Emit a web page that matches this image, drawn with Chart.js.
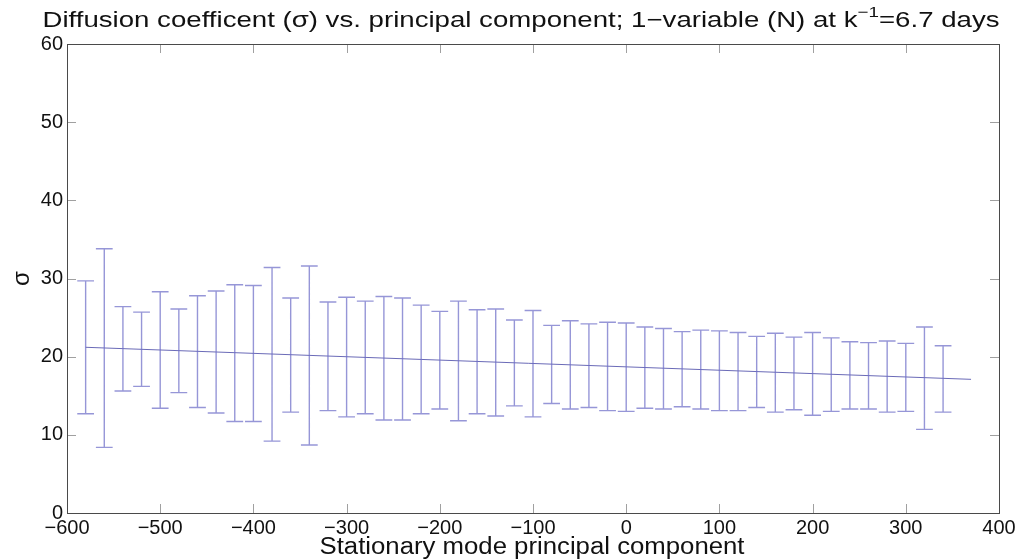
<!DOCTYPE html>
<html>
<head>
<meta charset="utf-8">
<script src="https://cdn.jsdelivr.net/npm/chart.js@4/dist/chart.umd.min.js"></script>
<style>
  html, body { margin: 0; padding: 0; background: #ffffff; }
  #wrap { width: 1022px; height: 560px; }
</style>
</head>
<body>
<div id="wrap"><canvas id="c" width="1022" height="560"></canvas></div>
<script>
// Principal-component bins and the sigma interval in each bin
const binX = [-580, -560, -540, -520, -500, -480, -460, -440, -420, -400,
              -380, -360, -340, -320, -300, -280, -260, -240, -220, -200,
              -180, -160, -140, -120, -100, -80, -60, -40, -20, 0,
              20, 40, 60, 80, 100, 120, 140, 160, 180, 200,
              220, 240, 260, 280, 300, 320, 340];
const sigmaLow = [12.7, 8.4, 15.6, 16.2, 13.4, 15.4, 13.5, 12.8, 11.7, 11.7,
                  9.2, 12.9, 8.7, 13.1, 12.3, 12.7, 11.9, 11.9, 12.7, 13.3,
                  11.8, 12.7, 12.4, 13.7, 12.3, 14.0, 13.3, 13.5, 13.1, 13.0,
                  13.4, 13.3, 13.6, 13.3, 13.1, 13.1, 13.5, 12.9, 13.2, 12.5,
                  13.0, 13.3, 13.3, 12.9, 13.0, 10.7, 12.9];
const sigmaHigh = [29.7, 33.8, 26.4, 25.7, 28.3, 26.1, 27.8, 28.4, 29.2, 29.1,
                   31.4, 27.5, 31.6, 27.0, 27.6, 27.1, 27.7, 27.5, 26.6, 25.8,
                   27.1, 26.0, 26.1, 24.7, 25.9, 24.0, 24.6, 24.2, 24.4, 24.3,
                   23.8, 23.6, 23.2, 23.4, 23.3, 23.1, 22.6, 23.0, 22.5, 23.1,
                   22.4, 21.9, 21.8, 22.0, 21.7, 23.8, 21.4];

// Linear fit through the bins
const fitX = [-580, 370];
const fitY = [21.2, 17.1];

// Axis ticks
const xTicks = [-600, -500, -400, -300, -200, -100, 0, 100, 200, 300, 400];
const yTicks = [0, 10, 20, 30, 40, 50, 60];

// Labels
const titleMain = 'Diffusion coefficent (\u03c3) vs. principal component; 1\u2212variable (N) at k';
const titleSup = '\u22121';
const titleEnd = '=6.7 days';
const xTitle = 'Stationary mode principal component';
const yTitle = '\u03c3';

const CAP_HALF = 9;          // half cap width, in x units
const FONT = "'Liberation Sans', Arial, sans-serif";
const MINUS = '\u2212';

// Error bars as one broken polyline: stem and both caps per bin
const barPoints = [];
binX.forEach((x, i) => {
  const lo = sigmaLow[i], hi = sigmaHigh[i];
  barPoints.push({x: x, y: lo}, {x: x, y: hi}, {x: x, y: null});
  barPoints.push({x: x - CAP_HALF, y: lo}, {x: x + CAP_HALF, y: lo}, {x: x, y: null});
  barPoints.push({x: x - CAP_HALF, y: hi}, {x: x + CAP_HALF, y: hi}, {x: x, y: null});
});
const fitPoints = fitX.map((x, i) => ({x: x, y: fitY[i]}));

// Box around the axes with inward tick marks on all four sides
const boxPlugin = {
  id: 'box',
  afterDatasetsDraw(chart) {
    const {ctx, chartArea: a, scales} = chart;
    const len = 9;
    ctx.save();
    ctx.lineWidth = 1;
    ctx.strokeStyle = '#a0a0a0';
    ctx.beginPath();
    xTicks.forEach(v => {
      const px = Math.round(scales.x.getPixelForValue(v)) + 0.5;
      ctx.moveTo(px, a.bottom); ctx.lineTo(px, a.bottom - len);
      ctx.moveTo(px, a.top); ctx.lineTo(px, a.top + len);
    });
    yTicks.forEach(v => {
      const py = Math.round(scales.y.getPixelForValue(v)) + 0.5;
      ctx.moveTo(a.left, py); ctx.lineTo(a.left + len, py);
      ctx.moveTo(a.right, py); ctx.lineTo(a.right - len, py);
    });
    ctx.stroke();
    ctx.strokeStyle = '#4a4a4a';
    ctx.strokeRect(Math.round(a.left) + 0.5, Math.round(a.top) + 0.5,
                   Math.round(a.right - a.left), Math.round(a.bottom - a.top));
    ctx.restore();
  }
};

// Draw a run of text pieces centred on cx, widened to span the given width
function drawWide(ctx, pieces, cx, base, width) {
  let w = 0;
  pieces.forEach(p => { ctx.font = p.font; p.w = ctx.measureText(p.t).width; w += p.w; });
  const sx = width / w;
  ctx.save();
  ctx.translate(cx - width / 2, base);
  ctx.scale(sx, 1);
  let x = 0;
  pieces.forEach(p => {
    ctx.font = p.font;
    ctx.fillText(p.t, x, p.dy || 0);
    x += p.w;
  });
  ctx.restore();
}

// Title (with raised exponent on k) and x-axis label
const textPlugin = {
  id: 'labels',
  afterDraw(chart) {
    const {ctx} = chart;
    ctx.save();
    ctx.fillStyle = '#111';
    ctx.textBaseline = 'alphabetic';
    ctx.textAlign = 'left';
    const big = '22px ' + FONT, small = '15px ' + FONT;
    drawWide(ctx, [
      {t: titleMain, font: big},
      {t: titleSup, font: small, dy: -10},
      {t: titleEnd, font: big}
    ], 521, 27, 957);
    drawWide(ctx, [{t: xTitle, font: '23px ' + FONT}], 532, 554, 425);
    ctx.restore();
  }
};

new Chart(document.getElementById('c'), {
  type: 'line',
  data: {
    datasets: [
      {
        label: 'sigma range',
        data: barPoints,
        borderColor: 'rgba(110, 110, 200, 0.72)',
        borderWidth: 1.4,
        pointRadius: 0,
        spanGaps: false,
        tension: 0
      },
      {
        label: 'fit',
        data: fitPoints,
        borderColor: 'rgba(80, 80, 170, 0.85)',
        borderWidth: 1,
        pointRadius: 0,
        tension: 0
      }
    ]
  },
  options: {
    responsive: false,
    animation: false,
    events: [],
    layout: { padding: { left: 0, right: 23, top: 44, bottom: 0 } },
    plugins: {
      legend: { display: false },
      tooltip: { enabled: false },
      title: { display: false }
    },
    scales: {
      x: {
        type: 'linear',
        min: -600, max: 400,
        afterBuildTicks(s) { s.ticks = xTicks.map(v => ({value: v})); },
        afterFit(s) { s.height = 47; },
        grid: { display: false, drawTicks: false },
        border: { display: false },
        ticks: {
          color: '#111',
          font: { family: FONT, size: 20 },
          padding: 3,
          maxRotation: 0,
          autoSkip: false,
          callback: v => (v < 0 ? MINUS + Math.abs(v) : String(v))
        }
      },
      y: {
        type: 'linear',
        min: 0, max: 60,
        afterBuildTicks(s) { s.ticks = yTicks.map(v => ({value: v})); },
        afterFit(s) { s.width = 67; },
        grid: { display: false, drawTicks: false },
        border: { display: false },
        ticks: {
          color: '#111',
          font: { family: FONT, size: 20 },
          padding: 4
        },
        title: {
          display: true,
          text: yTitle,
          color: '#111',
          font: { family: FONT, size: 24 },
          padding: { top: 8, bottom: 0 }
        }
      }
    }
  },
  plugins: [boxPlugin, textPlugin]
});
</script>
</body>
</html>
